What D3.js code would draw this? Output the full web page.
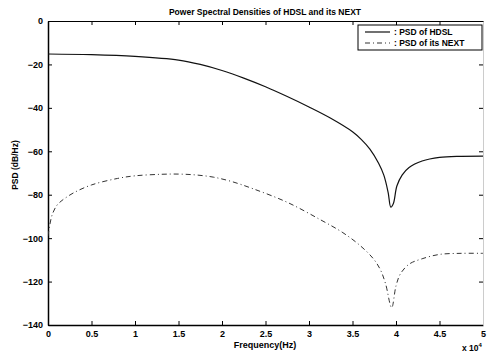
<!DOCTYPE html>
<html>
<head>
<meta charset="utf-8">
<script src="https://cdn.jsdelivr.net/npm/d3@7"></script>
<style>
  body { margin: 0; background: #fff; }
  svg text { font-family: "Liberation Sans", Arial, sans-serif; fill: #000; }
</style>
</head>
<body>
<svg id="chart" width="492" height="353"></svg>
<script>
// frequency in units of 1e4 Hz
const hdslFreq = [0, 0.5, 1.0, 1.5, 1.75, 2.0, 2.25, 2.5, 2.75, 3.0, 3.25, 3.5, 3.6, 3.7, 3.8, 3.86, 3.91, 3.94, 3.97, 4.01, 4.07, 4.15, 4.3, 4.5, 4.75, 5.0];
const hdslPsd  = [-15.2, -15.5, -16.3, -18.0, -20.0, -22.8, -26.3, -30.3, -34.8, -39.6, -44.8, -51, -54.5, -59, -65.5, -71, -79, -85.7, -84, -76, -71, -67.5, -64.5, -62.8, -62.3, -62.2];

const nextFreq = [0, 0.02, 0.05, 0.1, 0.15, 0.2, 0.3, 0.5, 0.8, 1.0, 1.3, 1.5, 1.7, 1.9, 2.1, 2.36, 2.75, 3.13, 3.39, 3.59, 3.74, 3.82, 3.88, 3.95, 4.0, 4.05, 4.15, 4.3, 4.5, 4.75, 5.0];
const nextPsd  = [-99, -94, -89, -85, -83, -81.5, -79, -75.5, -72.5, -71.3, -70.6, -70.5, -70.9, -71.9, -73.8, -77.3, -83.5, -91.5, -97.5, -103.5, -109.5, -114.5, -121, -132, -122, -116.5, -112, -109.5, -107.5, -107, -107];

const xTicks = [0, 0.5, 1, 1.5, 2, 2.5, 3, 3.5, 4, 4.5, 5];
const yTicks = [0, -20, -40, -60, -80, -100, -120, -140];

const svg = d3.select("#chart");
const mLeft = 48, mRight = 483, mTop = 21, mBottom = 325;

const x = d3.scaleLinear().domain([0, 5]).range([mLeft, mRight]);
const y = d3.scaleLinear().domain([-140, 0]).range([mBottom, mTop]);

svg.append("defs").append("clipPath").attr("id", "clip")
  .append("rect").attr("x", mLeft).attr("y", mTop).attr("width", mRight - mLeft).attr("height", mBottom - mTop);

// axes (ticks inward)
svg.append("g")
  .attr("transform", `translate(0,${mBottom})`)
  .call(d3.axisBottom(x).tickValues(xTicks).tickSizeInner(-4).tickSizeOuter(0).tickPadding(6).tickFormat(d3.format("")))
  .call(g => g.select(".domain").attr("stroke-width", 1.5));

svg.append("g")
  .attr("transform", `translate(0,${mTop})`)
  .call(d3.axisTop(x).tickValues(xTicks).tickSizeInner(-4).tickSizeOuter(0).tickFormat(""))
  .call(g => g.select(".domain").attr("stroke-width", 1));

svg.append("g")
  .attr("transform", `translate(${mLeft},0)`)
  .call(d3.axisLeft(y).tickValues(yTicks).tickSizeInner(-4).tickSizeOuter(0).tickPadding(5).tickFormat(d3.format("")))
  .call(g => g.select(".domain").attr("stroke-width", 1.5));

svg.append("g")
  .attr("transform", `translate(${mRight},0)`)
  .call(d3.axisRight(y).tickValues(yTicks).tickSizeInner(-4).tickSizeOuter(0).tickFormat(""))
  .call(g => g.select(".domain").attr("stroke", "#ccc"));

svg.selectAll(".tick text")
  .style("font-size", "9px")
  .style("font-weight", "bold");

const line = d3.line()
  .x(d => x(d[0]))
  .y(d => y(d[1]))
  .curve(d3.curveCatmullRom.alpha(0.5));

svg.append("path")
  .datum(d3.zip(hdslFreq, hdslPsd))
  .attr("clip-path", "url(#clip)")
  .attr("fill", "none")
  .attr("stroke", "#111")
  .attr("stroke-width", 1.2)
  .attr("d", line);

svg.append("path")
  .datum(d3.zip(nextFreq, nextPsd))
  .attr("clip-path", "url(#clip)")
  .attr("fill", "none")
  .attr("stroke", "#333")
  .attr("stroke-width", 1)
  .attr("stroke-dasharray", "5,3,1,3")
  .attr("d", line);

// title and labels
svg.append("text")
  .attr("x", 265).attr("y", 15)
  .attr("text-anchor", "middle")
  .style("font-size", "8.5px").style("font-weight", "bold")
  .text("Power Spectral Densities of HDSL and its NEXT");

svg.append("text")
  .attr("x", 265).attr("y", 348)
  .attr("text-anchor", "middle")
  .style("font-size", "9px").style("font-weight", "bold")
  .text("Frequency(Hz)");

svg.append("text")
  .attr("transform", "translate(18,165) rotate(-90)")
  .attr("text-anchor", "middle")
  .style("font-size", "8.5px").style("font-weight", "bold")
  .text("PSD (dB/Hz)");

const mult = svg.append("text")
  .attr("x", 462).attr("y", 351)
  .style("font-size", "8.5px").style("font-weight", "bold");
mult.append("tspan").text("x 10");
mult.append("tspan").attr("dy", -4).style("font-size", "6px").text("4");

// legend
const lg = svg.append("g").attr("transform", "translate(358,25)");
lg.append("rect").attr("width", 124).attr("height", 25)
  .attr("fill", "#fff").attr("stroke", "#000").attr("stroke-width", 1);
lg.append("line").attr("x1", 7).attr("x2", 32).attr("y1", 7).attr("y2", 7)
  .attr("stroke", "#111").attr("stroke-width", 1.2);
lg.append("line").attr("x1", 7).attr("x2", 32).attr("y1", 18).attr("y2", 18)
  .attr("stroke", "#333").attr("stroke-dasharray", "5,3,1,3");
lg.append("text").attr("x", 36).attr("y", 10)
  .style("font-size", "8.5px").style("font-weight", "bold").text(": PSD of HDSL");
lg.append("text").attr("x", 36).attr("y", 21)
  .style("font-size", "8.5px").style("font-weight", "bold").text(": PSD of its NEXT");
</script>
</body>
</html>
